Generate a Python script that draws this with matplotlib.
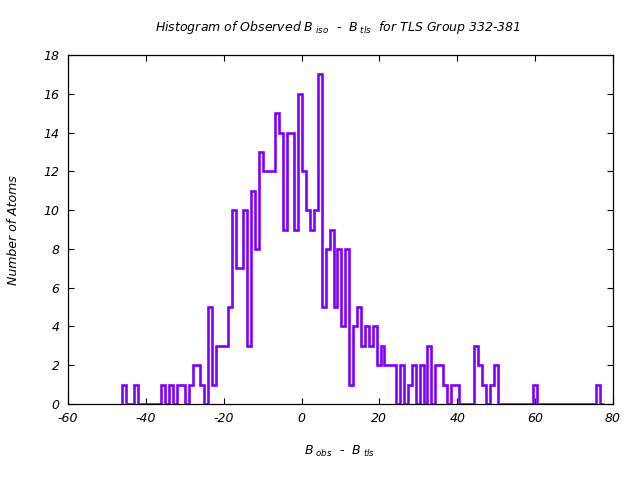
import numpy as np
import matplotlib
matplotlib.use("Agg")
import matplotlib.pyplot as plt

plt.rcParams['font.family'] = ['DejaVu Sans']
plt.rcParams['mathtext.fontset'] = 'custom'
plt.rcParams['mathtext.it'] = 'DejaVu Sans:italic'
plt.rcParams['mathtext.rm'] = 'DejaVu Sans:italic'
plt.rcParams['axes.unicode_minus'] = False

# ---- data ----
bin_start = -46.1
bin_width = 1.0057
counts = [
    1, 0, 0, 1, 0, 0, 0, 0, 0, 0,      # 0-9
    1, 0, 1, 0, 1, 1, 0, 1, 2, 2,      # 10-19
    1, 0, 5, 1, 3, 3, 3, 5, 10, 7,     # 20-29
    7, 10, 3, 11, 8, 13, 12, 12, 12, 15,   # 30-39
    14, 9, 14, 14, 9, 16, 12, 10, 9, 10,   # 40-49
    17, 5, 8, 9, 5, 8, 4, 8, 1, 4,     # 50-59
    5, 3, 4, 3, 4, 2, 3, 2, 2, 2,      # 60-69
    0, 2, 0, 1, 2, 0, 2, 0, 3, 0,      # 70-79
    2, 2, 1, 0, 1, 1, 0, 0, 0, 0,      # 80-89
    3, 2, 1, 0, 1, 2, 0, 0, 0, 0,      # 90-99
    0, 0, 0, 0, 0, 1, 0, 0, 0, 0,      # 100-109
    0, 0, 0, 0, 0, 0, 0, 0, 0, 0,      # 110-119
    0, 1, 0,                           # 120-122
]
x_ticks = [-60, -40, -20, 0, 20, 40, 60, 80]
y_ticks = [0, 2, 4, 6, 8, 10, 12, 14, 16, 18]

title = r"Histogram of Observed $B_{\ iso}$  -  $B_{\ tls}$  for TLS Group 332-381"
xlabel = r"$B_{\ obs}$  -  $B_{\ tls}$"
ylabel = "Number of Atoms"

edges = bin_start + bin_width * np.arange(len(counts) + 1)

fig = plt.figure(figsize=(6.4, 4.8), dpi=100)
ax = fig.add_axes([68/640, 1 - 404/480, (613-68)/640, (404-55)/480])

ax.stairs(counts, edges, baseline=0, color='#8000ff', linewidth=1.9, zorder=3)

ax.set_xlim(-60, 80)
ax.set_ylim(0, 18)
ax.set_xticks(x_ticks)
ax.set_yticks(y_ticks)
ax.tick_params(direction='in', length=4.5, width=0.8, top=True, right=True,
               labelsize=9, pad=6)
for lab in ax.get_xticklabels() + ax.get_yticklabels():
    lab.set_fontstyle('italic')
for s in ax.spines.values():
    s.set_linewidth(0.9)

fig.text(338/640, 1 - 27/480, title, ha='center', va='center',
         fontsize=9, style='italic')
fig.text(340/640, 1 - 451/480, xlabel, ha='center', va='center',
         fontsize=9, style='italic')
fig.text(14/640, 1 - 230/480, ylabel, ha='center', va='center',
         fontsize=9, style='italic', rotation=90)

fig.savefig("out.png", dpi=100)
